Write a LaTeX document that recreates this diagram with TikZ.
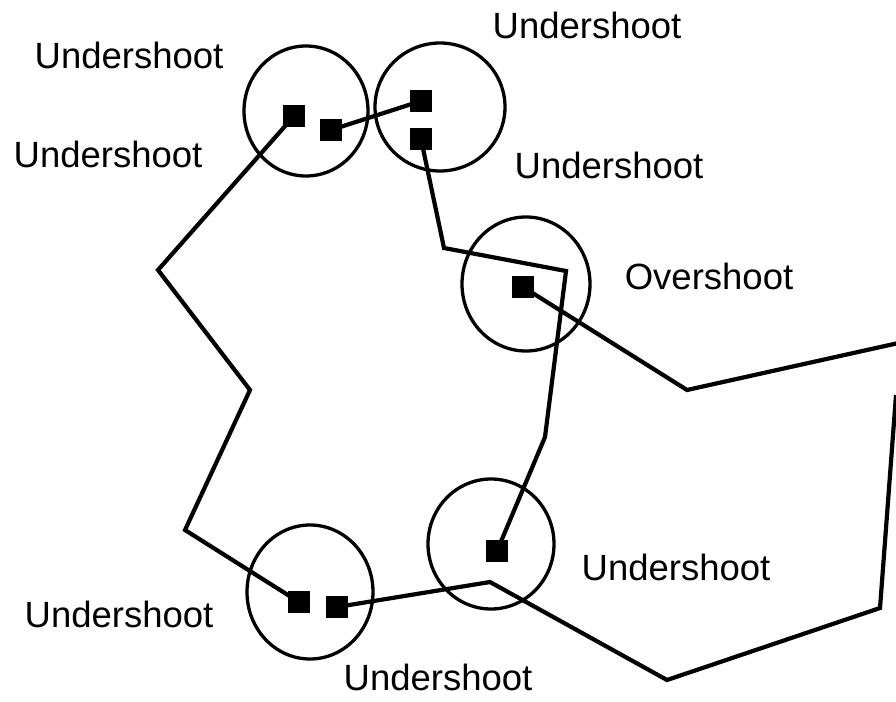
\documentclass[tikz,border=0pt]{standalone}
\usepackage{fontspec}
\setmainfont{Liberation Sans}
\begin{document}
\begin{tikzpicture}[x=1pt,y=-1pt,
  lbl/.style={anchor=base,inner sep=0pt,font=\fontsize{36.5}{40}\selectfont},
  sq/.style={draw=none,fill=black,minimum size=21pt,inner sep=0pt},
  ring/.style={draw=black,line width=3.3pt},
  wire/.style={line width=4.2pt,line join=miter}]
\useasboundingbox (0,0) rectangle (896,701);
\clip (0,0) rectangle (896,701);
% circles
\draw[ring] (306,111) ellipse [x radius=62,y radius=65];
\draw[ring] (440,107) ellipse [x radius=65,y radius=64];
\draw[ring] (526,284) ellipse [x radius=64,y radius=67];
\draw[ring] (310,592) ellipse [x radius=63,y radius=67];
\draw[ring] (491,544) ellipse [x radius=63,y radius=65];
% squares
\node[sq] (A) at (294,116) {};
\node[sq] (F) at (331,130) {};
\node[sq] (E) at (421,101) {};
\node[sq] (G) at (421,139) {};
\node[sq] (D) at (523,287) {};
\node[sq] (H) at (497,551) {};
\node[sq] (B) at (299,602) {};
\node[sq] (C) at (337,607) {};
% bend points
\coordinate (p1) at (158,270);
\coordinate (p2) at (250,390);
\coordinate (p3) at (185,530);
\coordinate (q1) at (444,248);
\coordinate (q2) at (566,271);
\coordinate (q3) at (545,437);
\coordinate (r1) at (687,390);
\coordinate (r2) at (903,342);
\coordinate (s1) at (490,582);
\coordinate (s2) at (667,680);
\coordinate (s3) at (880,608);
\coordinate (s4) at (896,395);
% wires
\draw[wire] (A.center) -- (p1) -- (p2) -- (p3) -- (B.center);
\draw[wire] (F.center) -- (E.center);
\draw[wire] (G.center) -- (q1) -- (q2) -- (q3) -- (H.center);
\draw[wire] (D.center) -- (r1) -- (r2);
\draw[wire] (C.center) -- (s1) -- (s2) -- (s3) -- (s4);
% redraw squares on top
\foreach \n in {A,F,E,G,D,H,B,C} \fill[black] (\n.south west) rectangle (\n.north east);
% labels
\node[lbl] (l1) at (129,68) {Undershoot};
\node[lbl] (l2) at (587,39) {Undershoot};
\node[lbl] (l3) at (108,167) {Undershoot};
\node[lbl] (l4) at (609,178) {Undershoot};
\node[lbl] (l5) at (709,289) {Overshoot};
\node[lbl] (l6) at (676,580) {Undershoot};
\node[lbl] (l7) at (119,627) {Undershoot};
\node[lbl] (l8) at (438,690) {Undershoot};
\end{tikzpicture}
\end{document}
